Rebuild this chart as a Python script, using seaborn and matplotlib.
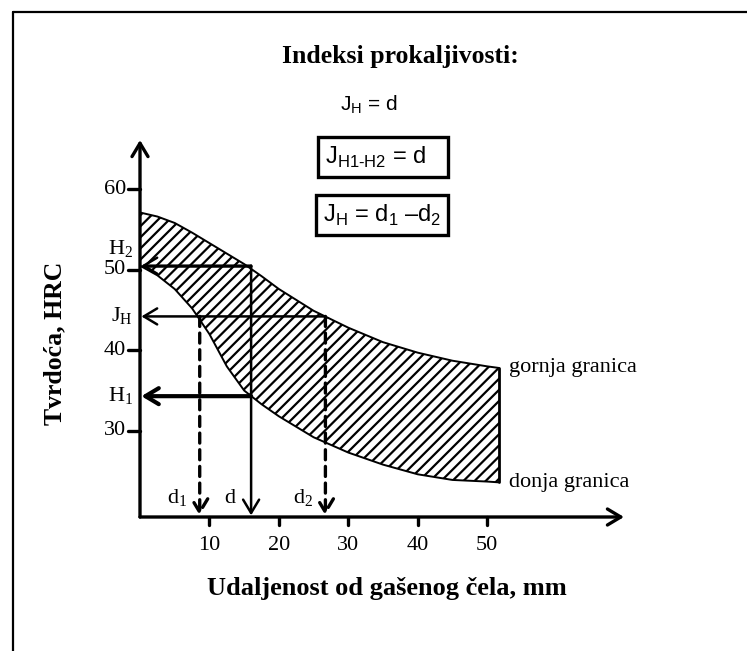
import matplotlib
matplotlib.use("Agg")
import matplotlib.pyplot as plt
from matplotlib.lines import Line2D
import pandas as pd
import seaborn as sns

# Jominy hardenability band: distance from quenched end (mm) vs hardness (HRC)
distance_mm = [0, 2.5, 5, 7.5, 10, 12.5, 15, 17.5, 20, 25, 30, 35, 40, 45, 50, 51.7]
upper_hrc = [57.1, 56.6, 55.8, 54.6, 53.3, 52.0, 50.7, 49.2, 47.6, 44.9, 42.8, 41.0, 39.7, 38.7, 38.0, 37.8]
lower_hrc = [50.5, 49.3, 47.6, 45.2, 42.0, 38.0, 35.0, 33.3, 31.8, 29.2, 27.3, 25.8, 24.6, 23.9, 23.7, 23.6]

x_ticks = [10, 20, 30, 40, 50]
y_ticks = [30, 40, 50, 60]

# Reading values for the hardenability indices
h2_hrc = 50.5
h1_hrc = 34.3
jh_hrc = 44.2
d_mm = 16.0
d1_mm = 8.6
d2_mm = 26.7

x_max, y_min, y_max = 69.7, 19.3, 66.1

sns.set_theme(style="white")
plt.rcParams["font.family"] = ["Liberation Serif", "DejaVu Serif"]
plt.rcParams["text.color"] = "black"
plt.rcParams["axes.labelcolor"] = "black"
plt.rcParams["mathtext.fontset"] = "custom"
plt.rcParams["mathtext.rm"] = "Liberation Sans"
plt.rcParams["hatch.linewidth"] = 1.6

W, H = 747, 651
fig = plt.figure(figsize=(W / 100, H / 100), dpi=100)
fig.patch.set_facecolor("white")

# axes placed so the data origin sits at pixel (140, 517)
ax = fig.add_axes([140 / W, (H - 517) / H, (624 - 140) / W, (517 - 140) / H])
ax.set_xlim(0, x_max)
ax.set_ylim(y_min, y_max)
ax.set_facecolor("none")
for s in ax.spines.values():
    s.set_visible(False)
ax.set_xticks([])
ax.set_yticks([])

band = pd.DataFrame({"x": distance_mm, "upper": upper_hrc, "lower": lower_hrc})

# hatched band
ax.fill_between(band["x"], band["lower"], band["upper"], facecolor="white",
                edgecolor="black", hatch="///", linewidth=0, zorder=1)
sns.lineplot(data=band, x="x", y="upper", color="black", lw=1.4, ax=ax, zorder=2)
sns.lineplot(data=band, x="x", y="lower", color="black", lw=1.4, ax=ax, zorder=2)
ax.plot([distance_mm[-1]] * 2, [lower_hrc[-1], upper_hrc[-1]], color="black", lw=2.0, zorder=2)
ax.set_xlabel("")
ax.set_ylabel("")


def arrow(x0, y0, x1, y1, lw, ls="-", head=10, hw=6):
    ax.annotate("", xy=(x1, y1), xytext=(x0, y0), annotation_clip=False,
                arrowprops=dict(arrowstyle=f"->,head_length={head/10*0.8},head_width={hw/10*0.8}",
                                color="black", lw=lw, ls=ls,
                                shrinkA=0, shrinkB=0), zorder=5)


# coordinate axes with arrow tips
arrow(0, y_min, 0, y_max, 2.4)
arrow(0, y_min, x_max, y_min, 2.4)

# ticks
for t in y_ticks:
    ax.add_line(Line2D([-1.75, 0], [t, t], color="black", lw=2.4, clip_on=False))
    ax.text(-2.0, t, str(t), ha="right", va="center", fontsize=16)
for t in x_ticks:
    ax.add_line(Line2D([t, t], [y_min, y_min - 1.0], color="black", lw=2.4, clip_on=False))
    ax.text(t, y_min - 2.3, str(t), ha="center", va="top", fontsize=16)

# index construction lines
ax.plot([0.3, d_mm], [h2_hrc, h2_hrc], color="black", lw=1.8, zorder=4)
arrow(d_mm, h2_hrc, 0.2, h2_hrc, 1.8)
arrow(d_mm, h2_hrc, d_mm, y_min + 0.2, 1.8)
arrow(d_mm, h1_hrc, 0.2, h1_hrc, 3.0)
arrow(d2_mm, jh_hrc, 0.2, jh_hrc, 1.8)
arrow(d1_mm, jh_hrc, d1_mm, y_min + 0.2, 2.4, ls=(0, (3, 2)))
arrow(d2_mm, jh_hrc, d2_mm, y_min + 0.2, 2.4, ls=(0, (3, 2)))

# labels beside the axes
ax.text(-1.0, 52.6, r"H$_\mathdefault{2}$", ha="right", va="center", fontsize=16)
ax.text(-1.0, jh_hrc, r"J$_\mathdefault{H}$", ha="right", va="center", fontsize=16)
ax.text(-1.0, h1_hrc, r"H$_\mathdefault{1}$", ha="right", va="center", fontsize=16)
ax.text(5.3, 21.6, r"d$_\mathdefault{1}$", ha="center", va="center", fontsize=16)
ax.text(12.9, 21.6, "d", ha="center", va="center", fontsize=16)
ax.text(23.5, 21.6, r"d$_\mathdefault{2}$", ha="center", va="center", fontsize=16)
ax.text(53.2, upper_hrc[-1], "gornja granica", ha="left", va="center", fontsize=16)
ax.text(53.2, lower_hrc[-1], "donja granica", ha="left", va="center", fontsize=16)

# axis titles
fig.text(55 / W, 1 - 343 / H, "Tvrdoća, HRC", rotation=90, ha="center", va="center",
         fontsize=18.5, fontweight="bold")
fig.text(387 / W, 1 - 589 / H, "Udaljenost od gašenog čela, mm", ha="center", va="center",
         fontsize=19, fontweight="bold")
fig.text(400 / W, 1 - 56 / H, "Indeksi prokaljivosti:", ha="center", va="center",
         fontsize=18.5, fontweight="bold")

# index definitions
fig.text(369 / W, 1 - 105 / H, r"J$_\mathregular{H}$ = d", ha="center", va="center",
         fontsize=15, family="Liberation Sans")
box = dict(boxstyle="square,pad=0.3", facecolor="white", edgecolor="black", lw=2.4)
fig.text(383 / W, 1 - 157 / H, "J$_\\mathregular{H1\u2010H2}$ = d   ", ha="center", va="center",
         fontsize=17, family="Liberation Sans", bbox=box)
fig.text(382 / W, 1 - 215 / H, r"J$_\mathregular{H}$ = d$_\mathregular{1}$ –d$_\mathregular{2}$",
         ha="center", va="center", fontsize=17, family="Liberation Sans", bbox=box)

# outer frame
fig.add_artist(Line2D([12.5 / W, 12.5 / W], [0, 1 - 11.5 / H], color="black", lw=1.6,
                      transform=fig.transFigure))
fig.add_artist(Line2D([12.5 / W, 1], [1 - 11.5 / H, 1 - 11.5 / H], color="black", lw=1.6,
                      transform=fig.transFigure))

fig.savefig("out.png", dpi=100, facecolor="white")
